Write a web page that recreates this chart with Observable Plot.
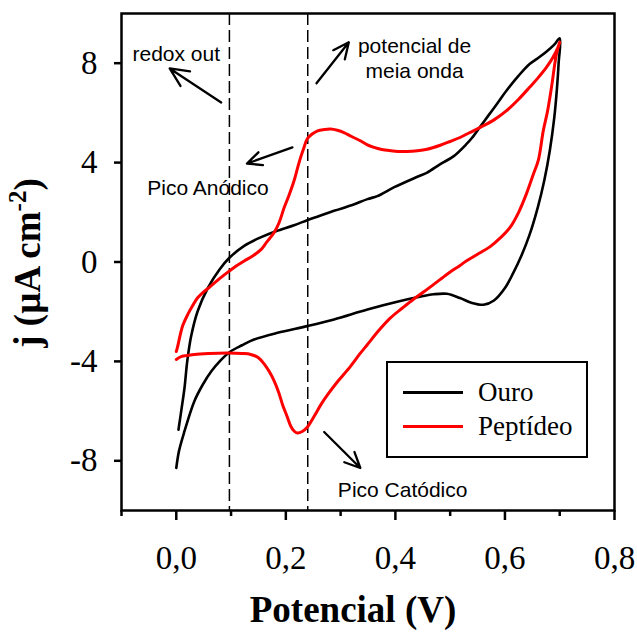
<!DOCTYPE html>
<html><head><meta charset="utf-8">
<script src="https://cdn.jsdelivr.net/npm/d3@7"></script>
<script src="https://cdn.jsdelivr.net/npm/@observablehq/plot@0.6"></script>
<style>
body{margin:0;background:#fff}
#wrap{position:relative;width:637px;height:632px}
.legend{position:absolute;left:386px;top:361px;width:198px;height:93px;border:2.5px solid #000;background:#fff;font-family:"Liberation Serif",serif;font-size:27px;color:#000}
.legend .ln{position:absolute;left:15px;width:60px;height:3px}
.legend .tx{position:absolute;left:90px;height:30px;line-height:30px;white-space:nowrap}
</style></head>
<body>
<div id="wrap"></div>
<script>
// ---- data ----
const ouroX = [0.000,0.005,0.015,0.033,0.048,0.064,0.080,0.097,0.120,0.142,0.185,0.239,0.288,0.349,0.409,0.440,0.470,0.494,0.518,0.540,0.561,0.580,0.600,0.615,0.630,0.645,0.660,0.672,0.682,0.690,0.695,0.698,0.700,
  0.690,0.675,0.660,0.645,0.625,0.603,0.585,0.570,0.555,0.540,0.530,0.506,0.482,0.458,0.439,0.397,0.367,0.349,0.320,0.288,0.261,0.239,0.215,0.182,0.155,0.124,0.097,0.079,0.058,0.039,0.027,0.020,0.015,0.009,0.004];
const ouroY = [-8.29,-7.60,-6.81,-5.60,-4.95,-4.40,-3.98,-3.63,-3.35,-3.12,-2.85,-2.58,-2.31,-1.91,-1.57,-1.42,-1.30,-1.28,-1.45,-1.65,-1.72,-1.55,-1.05,-0.45,0.25,1.10,2.20,3.30,4.50,5.80,7.00,8.00,9.00,
  8.75,8.45,8.20,7.97,7.50,6.90,6.35,5.90,5.45,5.00,4.75,4.25,3.94,3.60,3.42,3.00,2.65,2.53,2.28,2.06,1.85,1.68,1.48,1.24,1.00,0.65,0.17,-0.30,-1.03,-1.98,-3.00,-4.00,-5.07,-6.00,-6.75];

const peptX = [0.000,0.010,0.033,0.060,0.094,0.120,0.136,0.150,0.161,0.170,0.179,0.187,0.194,0.202,0.209,0.215,0.221,0.230,0.239,0.252,0.264,0.276,0.295,0.318,0.335,0.349,0.370,0.391,0.413,0.433,0.452,0.470,0.482,0.500,0.518,0.530,0.553,0.573,0.592,0.609,0.625,0.639,0.652,0.661,0.670,0.678,0.685,0.694,0.700,
  0.697,0.688,0.676,0.660,0.645,0.625,0.603,0.580,0.555,0.535,0.518,0.500,0.482,0.458,0.440,0.421,0.405,0.391,0.375,0.361,0.348,0.336,0.320,0.306,0.294,0.282,0.270,0.258,0.248,0.239,0.233,0.227,0.221,0.215,0.206,0.197,0.188,0.179,0.165,0.155,0.140,0.124,0.110,0.097,0.080,0.061,0.050,0.039,0.030,0.021,0.012,0.006,0.002,0.000];
const peptY = [-3.92,-3.80,-3.72,-3.68,-3.66,-3.68,-3.72,-3.85,-4.12,-4.42,-4.80,-5.25,-5.74,-6.20,-6.61,-6.80,-6.88,-6.82,-6.65,-6.20,-5.74,-5.35,-4.80,-4.20,-3.70,-3.32,-2.75,-2.25,-1.85,-1.50,-1.20,-0.90,-0.70,-0.40,-0.14,0.05,0.35,0.62,0.98,1.38,2.00,2.73,3.54,4.10,5.28,6.10,7.03,8.37,8.85,
  8.65,8.25,7.84,7.40,7.03,6.55,6.09,5.72,5.42,5.20,5.01,4.85,4.70,4.54,4.48,4.45,4.45,4.48,4.53,4.61,4.72,4.88,5.05,5.21,5.30,5.35,5.33,5.28,5.15,4.95,4.60,4.21,3.75,3.27,2.70,2.19,1.60,1.20,0.80,0.51,0.25,0.04,-0.15,-0.36,-0.65,-1.01,-1.20,-1.44,-1.75,-2.11,-2.55,-3.05,-3.45,-3.60];

const seriesNames = ["Ouro", "Peptídeo"];
const seriesColors = ["#000000", "#ff0000"];

const xTicks = [0, 0.2, 0.4, 0.6, 0.8];
const xMinorTicks = [-0.1, 0.1, 0.3, 0.5, 0.7];
const yTicks = [-8, -4, 0, 4, 8];
const refLines = [0.097, 0.24];

const annoLabels = ["redox out", "potencial de\nmeia onda", "Pico Anódico", "Pico Catódico"];
const annoX = [-0.08, 0.435, -0.053, 0.295];
const annoY = [8.10, 7.42, 2.70, -9.44];
const annoAnchor = ["start", "middle", "start", "start"];

const arrowX1 = [0.082, 0.256, 0.212, 0.270];
const arrowY1 = [6.42, 7.19, 4.61, -6.84];
const arrowX2 = [-0.012, 0.315, 0.129, 0.336];
const arrowY2 = [7.79, 8.84, 3.96, -8.29];

// ---- build ----
const ouro = ouroX.map((x, i) => ({x, y: ouroY[i]}));
const pept = peptX.map((x, i) => ({x, y: peptY[i]}));
const annos = annoLabels.map((t, i) => ({t, x: annoX[i], y: annoY[i], a: annoAnchor[i]}));
const arrows = arrowX1.map((x1, i) => ({x1, y1: arrowY1[i], x2: arrowX2[i], y2: arrowY2[i]}));

const fmtX = d => d.toFixed(1).replace(".", ",");

const chart = Plot.plot({
  width: 637, height: 632,
  marginLeft: 121, marginRight: 23, marginTop: 13, marginBottom: 122,
  style: {fontFamily: "Liberation Serif", background: "#fff", color: "#000", overflow: "visible"},
  x: {domain: [-0.1, 0.8]},
  y: {domain: [-10, 10]},
  marks: [
    Plot.ruleX(refLines, {stroke: "#000", strokeWidth: 1.5, strokeDasharray: "12,5"}),
    Plot.line(ouro, {x: "x", y: "y", stroke: seriesColors[0], strokeWidth: 2.6, curve: "catmull-rom"}),
    Plot.line(pept, {x: "x", y: "y", stroke: seriesColors[1], strokeWidth: 3, curve: "catmull-rom"}),
    Plot.arrow(arrows, {x1: "x1", y1: "y1", x2: "x2", y2: "y2", stroke: "#000", strokeWidth: 2.3, headLength: 18, headAngle: 50}),
    ...annos.map(d => Plot.text([d], {x: "x", y: "y", text: "t", textAnchor: d.a, lineAnchor: "bottom", lineHeight: 1.15, fontSize: 21, fontFamily: "Liberation Sans", fill: "#000"})),
    Plot.axisY({ticks: yTicks, tickSize: 7, tickPadding: 17, tickFormat: d => String(d), fontSize: 33, fontFamily: "Liberation Serif", strokeWidth: 2.5, label: null}),
    Plot.axisX({ticks: xTicks, tickSize: 10, tickPadding: 25, tickFormat: fmtX, fontSize: 33, fontFamily: "Liberation Serif", strokeWidth: 2.5, label: null}),
    Plot.axisX({ticks: xMinorTicks, tickSize: 6, tickFormat: () => "", strokeWidth: 2.5, label: null}),
    Plot.frame({stroke: "#000", strokeWidth: 2.5})
  ]
});

const svg = d3.select(chart);
// axis titles
svg.append("text")
  .attr("x", 353).attr("y", 622)
  .attr("text-anchor", "middle")
  .attr("font-family", "Liberation Serif").attr("font-weight", "bold").attr("font-size", 37)
  .attr("fill", "#000")
  .text("Potencial (V)");
const yt = svg.append("text")
  .attr("transform", "translate(40,263) rotate(-90)")
  .attr("text-anchor", "middle")
  .attr("font-family", "Liberation Serif").attr("font-weight", "bold").attr("font-size", 37)
  .attr("fill", "#000");
yt.append("tspan").text("j (µA cm");
yt.append("tspan").attr("dy", -14).attr("font-size", 25).text("-2");
yt.append("tspan").attr("dy", 14).text(")");

const wrap = document.getElementById("wrap");
wrap.appendChild(chart);

// legend
const lg = document.createElement("div");
lg.className = "legend";
seriesNames.forEach((name, i) => {
  const ln = document.createElement("div");
  ln.className = "ln";
  ln.style.top = (28 + i * 34) + "px";
  ln.style.background = seriesColors[i];
  lg.appendChild(ln);
  const tx = document.createElement("div");
  tx.className = "tx";
  tx.style.top = (14 + i * 34) + "px";
  tx.textContent = name;
  lg.appendChild(tx);
});
wrap.appendChild(lg);
</script>
</body></html>
